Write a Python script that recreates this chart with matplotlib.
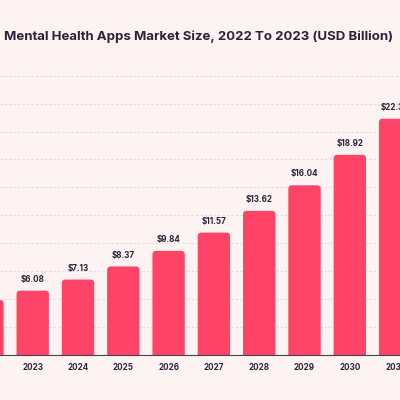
import matplotlib
matplotlib.use("Agg")
import matplotlib.pyplot as plt
from matplotlib.patches import FancyBboxPatch
import numpy as np

years = ["2022", "2023", "2024", "2025", "2026", "2027", "2028", "2029", "2030", "2031"]
values = [5.19, 6.08, 7.13, 8.37, 9.84, 11.57, 13.62, 16.04, 18.92, 22.33]
labels = ["$5.19", "$6.08", "$7.13", "$8.37", "$9.84", "$11.57", "$13.62", "$16.04", "$18.92", "$22.33"]
title = "Mental Health Apps Market Size, 2022 To 2023 (USD Billion)"

BG = "#FDF3F2"
BAR = "#FF4468"
TXT = "#2E2238"

plt.rcParams['font.family'] = ['Inter', 'DejaVu Sans']

fig = plt.figure(figsize=(4, 4), dpi=100, facecolor=BG)
ax = fig.add_axes([0, 45/400, 1, 279.3/400])
ax.set_facecolor(BG)

x = np.arange(len(years))
bars = ax.bar(x, values, width=0.715, color=BAR, zorder=3)

ymax = 26.4
ax.set_yticks(np.linspace(0, ymax, 11))
ax.set_xticks(x)
ax.set_xticklabels(years, fontsize=5.8, fontweight="bold", color=TXT)
ax.set_xlim(0.278, 9.108)
ax.set_ylim(0, ymax)

# rounded tops: replace each bar by a rounded box of the same geometry
r = 0.08
aspect = (400 / (9.108 - 0.278)) / (279.3 / ymax)
for b in bars:
    b.set_visible(False)
    ext = r * aspect
    p = FancyBboxPatch((b.get_x(), -ext), b.get_width(), b.get_height() + ext,
                       boxstyle=f"round,pad=0,rounding_size={r}",
                       mutation_aspect=aspect, facecolor=BAR, edgecolor="none",
                       zorder=3)
    ax.add_patch(p)

for xi, v, lab in zip(x, values, labels):
    ax.annotate(lab, (xi, v), xytext=(0, 5), textcoords="offset points",
                ha="center", va="bottom", fontsize=5.8, fontweight="bold",
                color=TXT, zorder=4, annotation_clip=False)

ax.yaxis.grid(True, color="#E6DADA", linestyle=(0, (2, 2)), linewidth=0.8, zorder=0)
ax.tick_params(axis="y", left=False, labelleft=False)
ax.tick_params(axis="x", length=0, pad=6)
for s in ["top", "left", "right"]:
    ax.spines[s].set_visible(False)
ax.spines["bottom"].set_color("#4A4050")
ax.spines["bottom"].set_linewidth(0.8)
ax.spines["bottom"].set_zorder(5)

fig.text(0.496, 1 - 36.7/400, title, ha="center", va="center", fontsize=9.5,
         fontweight="bold", color=TXT)

fig.savefig("out.png", dpi=100, facecolor=BG)
